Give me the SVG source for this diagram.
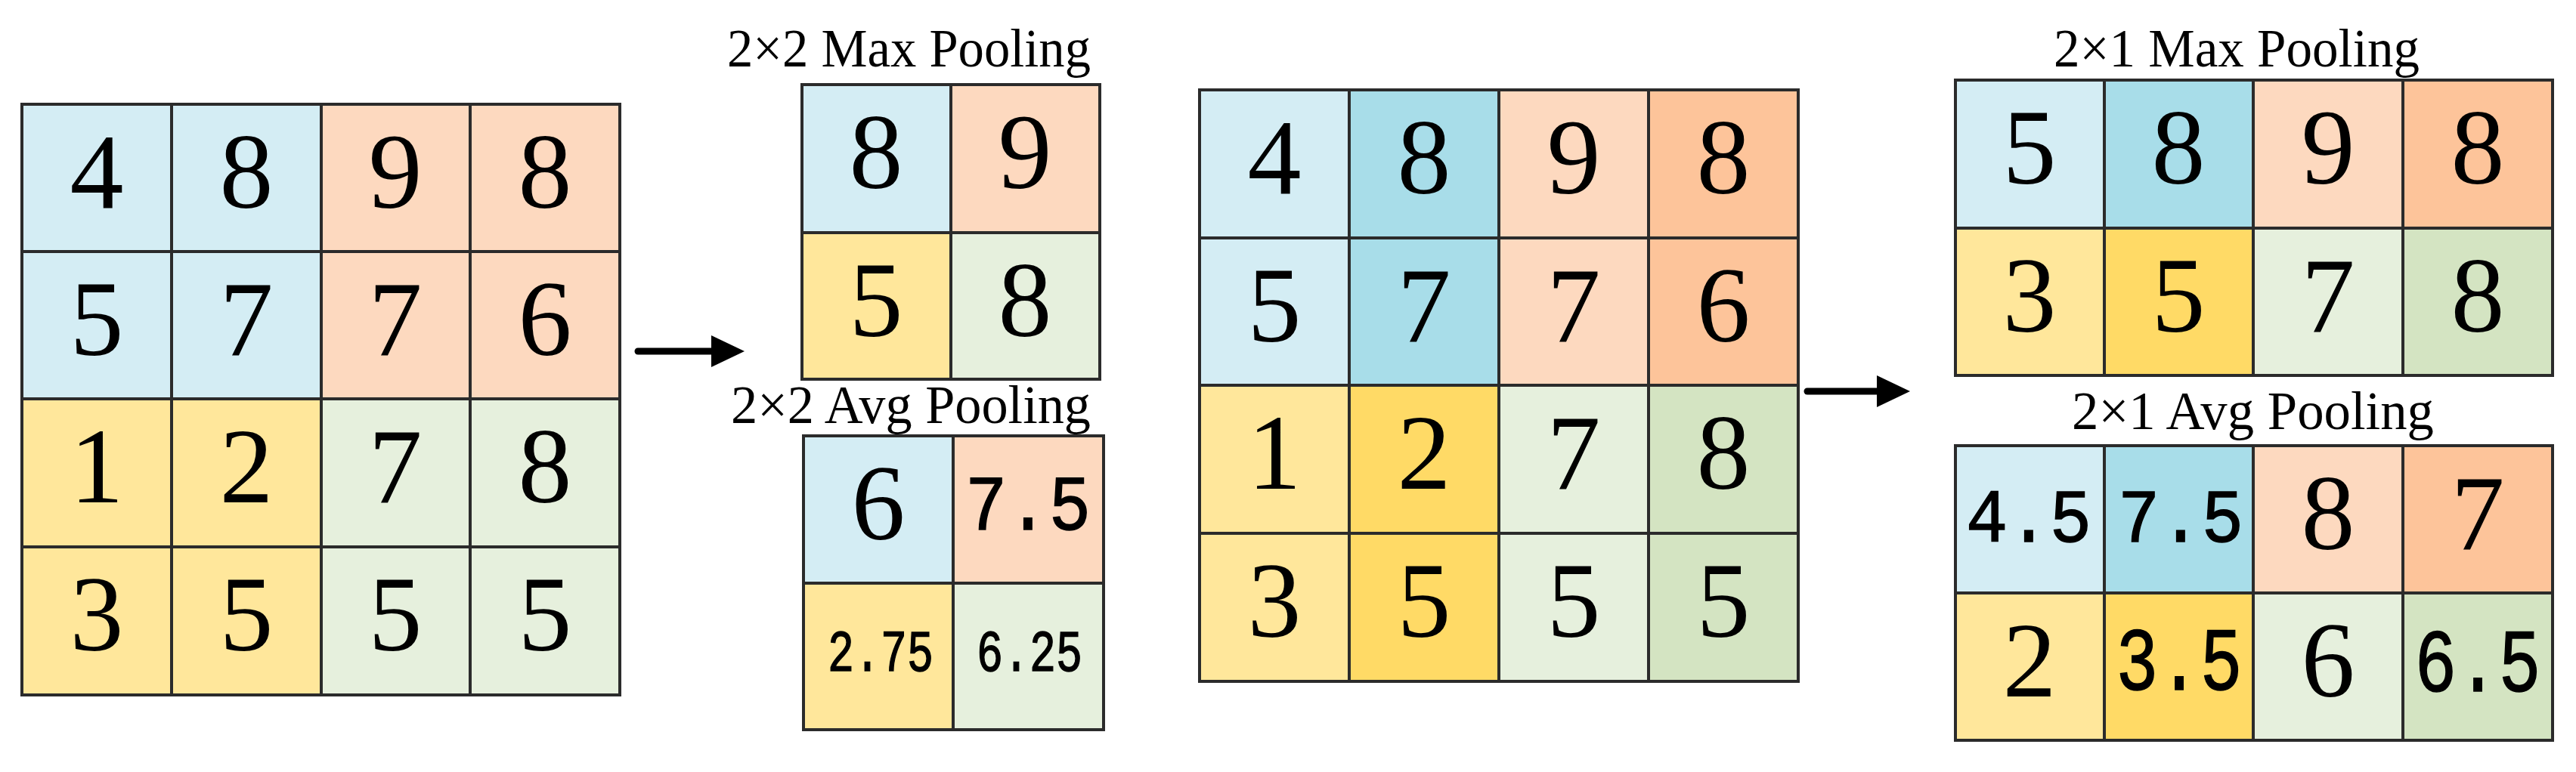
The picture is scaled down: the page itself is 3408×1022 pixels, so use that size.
<svg xmlns="http://www.w3.org/2000/svg" width="3408" height="1022" viewBox="0 0 3408 1022">
<style>
.c{stroke:#2b2b2b;stroke-width:4}
.b1{fill:#D4EDF4}.b2{fill:#A8DDE9}
.o1{fill:#FDD9BF}.o2{fill:#FDC49A}
.y1{fill:#FFE79B}.y2{fill:#FFDA66}
.g1{fill:#E6F0DD}.g2{fill:#D4E4C2}
.n{font-family:"Liberation Serif",serif;font-size:142px;text-anchor:middle;fill:#000}
.d{font-family:"Liberation Mono",monospace;text-anchor:middle;fill:#000;stroke:#000;stroke-width:1.5}
.t{font-family:"Liberation Serif",serif;font-size:72px;fill:#000}
.a{stroke:#000;stroke-width:9;stroke-linecap:round;fill:none}
</style>
<defs>
<marker id="ah" markerUnits="userSpaceOnUse" markerWidth="46" markerHeight="42" refX="2" refY="21" orient="auto">
<path d="M0,0 L44,21 L0,42 Z" fill="#000"/>
</marker>
</defs>
<rect width="3408" height="1022" fill="#fff"/>

<g id="input-grid-1">
<rect class="c b1" x="29" y="138" width="198" height="195"/>
<rect class="c b1" x="227" y="138" width="198" height="195"/>
<rect class="c o1" x="425" y="138" width="197" height="195"/>
<rect class="c o1" x="622" y="138" width="198" height="195"/>
<rect class="c b1" x="29" y="333" width="198" height="195"/>
<rect class="c b1" x="227" y="333" width="198" height="195"/>
<rect class="c o1" x="425" y="333" width="197" height="195"/>
<rect class="c o1" x="622" y="333" width="198" height="195"/>
<rect class="c y1" x="29" y="528" width="198" height="196"/>
<rect class="c y1" x="227" y="528" width="198" height="196"/>
<rect class="c g1" x="425" y="528" width="197" height="196"/>
<rect class="c g1" x="622" y="528" width="198" height="196"/>
<rect class="c y1" x="29" y="724" width="198" height="196"/>
<rect class="c y1" x="227" y="724" width="198" height="196"/>
<rect class="c g1" x="425" y="724" width="197" height="196"/>
<rect class="c g1" x="622" y="724" width="198" height="196"/>
<text class="n" x="128" y="275">4</text><text class="n" x="326" y="275">8</text><text class="n" x="523" y="275">9</text><text class="n" x="721" y="275">8</text>
<text class="n" x="128" y="470">5</text><text class="n" x="326" y="470">7</text><text class="n" x="523" y="470">7</text><text class="n" x="721" y="470">6</text>
<text class="n" x="128" y="665">1</text><text class="n" x="326" y="665">2</text><text class="n" x="523" y="665">7</text><text class="n" x="721" y="665">8</text>
<text class="n" x="128" y="861">3</text><text class="n" x="326" y="861">5</text><text class="n" x="523" y="861">5</text><text class="n" x="721" y="861">5</text>
</g>

<g id="max-pool-2x2">
<text class="t" x="962" y="88" textLength="481" lengthAdjust="spacingAndGlyphs">2×2 Max Pooling</text>
<rect class="c b1" x="1061" y="112" width="197" height="196"/>
<rect class="c o1" x="1258" y="112" width="197" height="196"/>
<rect class="c y1" x="1061" y="308" width="197" height="194"/>
<rect class="c g1" x="1258" y="308" width="197" height="194"/>
<text class="n" x="1159" y="249">8</text><text class="n" x="1356" y="249">9</text>
<text class="n" x="1159" y="445">5</text><text class="n" x="1356" y="445">8</text>
</g>

<g id="avg-pool-2x2">
<text class="t" x="967" y="560" textLength="476" lengthAdjust="spacingAndGlyphs">2×2 Avg Pooling</text>
<rect class="c b1" x="1063" y="577" width="198" height="195"/>
<rect class="c o1" x="1261" y="577" width="199" height="195"/>
<rect class="c y1" x="1063" y="772" width="198" height="194"/>
<rect class="c g1" x="1261" y="772" width="199" height="194"/>
<text class="n" x="1162" y="714">6</text>
<text class="d" x="1360" y="701" font-size="103" textLength="166" lengthAdjust="spacingAndGlyphs">7.5</text>
<text class="d" x="1165" y="888" font-size="78" textLength="140" lengthAdjust="spacingAndGlyphs">2.75</text>
<text class="d" x="1362" y="888" font-size="78" textLength="140" lengthAdjust="spacingAndGlyphs">6.25</text>
</g>

<g id="input-grid-2">
<rect class="c b1" x="1587" y="119" width="198" height="196"/>
<rect class="c b2" x="1785" y="119" width="198" height="196"/>
<rect class="c o1" x="1983" y="119" width="198" height="196"/>
<rect class="c o2" x="2181" y="119" width="198" height="196"/>
<rect class="c b1" x="1587" y="315" width="198" height="195"/>
<rect class="c b2" x="1785" y="315" width="198" height="195"/>
<rect class="c o1" x="1983" y="315" width="198" height="195"/>
<rect class="c o2" x="2181" y="315" width="198" height="195"/>
<rect class="c y1" x="1587" y="510" width="198" height="196"/>
<rect class="c y2" x="1785" y="510" width="198" height="196"/>
<rect class="c g1" x="1983" y="510" width="198" height="196"/>
<rect class="c g2" x="2181" y="510" width="198" height="196"/>
<rect class="c y1" x="1587" y="706" width="198" height="196"/>
<rect class="c y2" x="1785" y="706" width="198" height="196"/>
<rect class="c g1" x="1983" y="706" width="198" height="196"/>
<rect class="c g2" x="2181" y="706" width="198" height="196"/>
<text class="n" x="1686" y="256">4</text><text class="n" x="1884" y="256">8</text><text class="n" x="2082" y="256">9</text><text class="n" x="2280" y="256">8</text>
<text class="n" x="1686" y="452">5</text><text class="n" x="1884" y="452">7</text><text class="n" x="2082" y="452">7</text><text class="n" x="2280" y="452">6</text>
<text class="n" x="1686" y="647">1</text><text class="n" x="1884" y="647">2</text><text class="n" x="2082" y="647">7</text><text class="n" x="2280" y="647">8</text>
<text class="n" x="1686" y="843">3</text><text class="n" x="1884" y="843">5</text><text class="n" x="2082" y="843">5</text><text class="n" x="2280" y="843">5</text>
</g>

<g id="max-pool-2x1">
<text class="t" x="2717" y="88" textLength="484" lengthAdjust="spacingAndGlyphs">2×1 Max Pooling</text>
<rect class="c b1" x="2587" y="106" width="197" height="196"/>
<rect class="c b2" x="2784" y="106" width="197" height="196"/>
<rect class="c o1" x="2981" y="106" width="198" height="196"/>
<rect class="c o2" x="3179" y="106" width="198" height="196"/>
<rect class="c y1" x="2587" y="302" width="197" height="195"/>
<rect class="c y2" x="2784" y="302" width="197" height="195"/>
<rect class="c g1" x="2981" y="302" width="198" height="195"/>
<rect class="c g2" x="3179" y="302" width="198" height="195"/>
<text class="n" x="2685" y="243">5</text><text class="n" x="2882" y="243">8</text><text class="n" x="3080" y="243">9</text><text class="n" x="3278" y="243">8</text>
<text class="n" x="2685" y="439">3</text><text class="n" x="2882" y="439">5</text><text class="n" x="3080" y="439">7</text><text class="n" x="3278" y="439">8</text>
</g>

<g id="avg-pool-2x1">
<text class="t" x="2741" y="568" textLength="479" lengthAdjust="spacingAndGlyphs">2×1 Avg Pooling</text>
<rect class="c b1" x="2587" y="590" width="197" height="195"/>
<rect class="c b2" x="2784" y="590" width="197" height="195"/>
<rect class="c o1" x="2981" y="590" width="198" height="195"/>
<rect class="c o2" x="3179" y="590" width="198" height="195"/>
<rect class="c y1" x="2587" y="785" width="197" height="195"/>
<rect class="c y2" x="2784" y="785" width="197" height="195"/>
<rect class="c g1" x="2981" y="785" width="198" height="195"/>
<rect class="c g2" x="3179" y="785" width="198" height="195"/>
<text class="d" x="2684" y="717" font-size="100" textLength="166" lengthAdjust="spacingAndGlyphs">4.5</text>
<text class="d" x="2885" y="717" font-size="100" textLength="166" lengthAdjust="spacingAndGlyphs">7.5</text>
<text class="n" x="3080" y="727">8</text><text class="n" x="3278" y="727">7</text>
<text class="n" x="2685" y="922">2</text>
<text class="d" x="2883" y="913" font-size="118" textLength="167" lengthAdjust="spacingAndGlyphs">3.5</text>
<text class="n" x="3080" y="922">6</text>
<text class="d" x="3278" y="915" font-size="118" textLength="167" lengthAdjust="spacingAndGlyphs">6.5</text>
</g>

<g id="connectors">
<line class="a" x1="844" y1="465" x2="943" y2="465" marker-end="url(#ah)"/>
<line class="a" x1="2391" y1="518" x2="2485" y2="518" marker-end="url(#ah)"/>
</g>
</svg>
